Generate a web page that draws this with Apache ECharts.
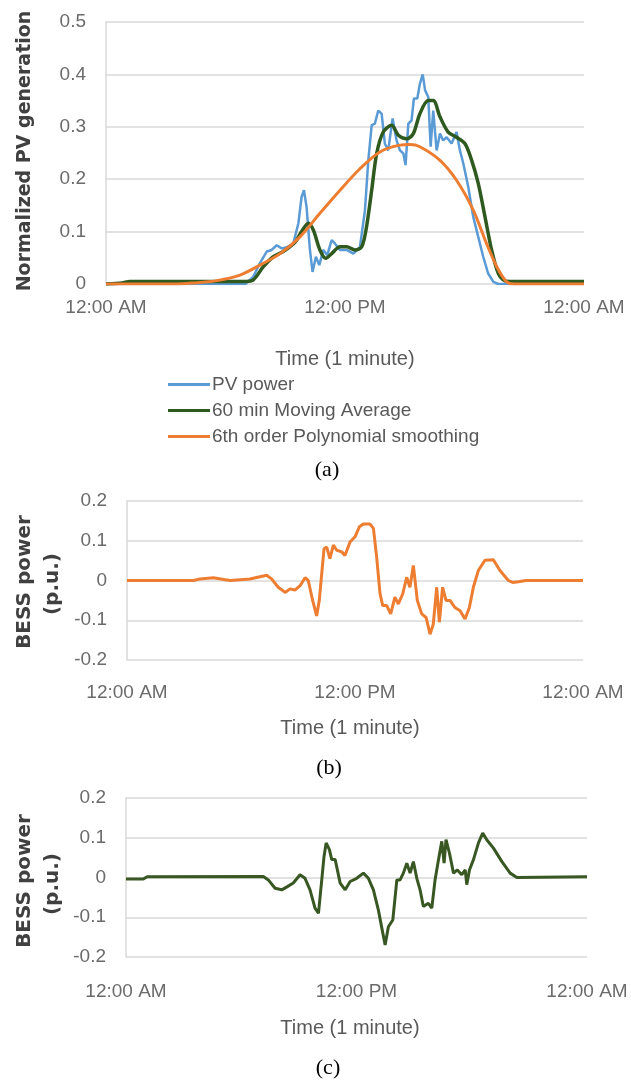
<!DOCTYPE html>
<html>
<head>
<meta charset="utf-8">
<script src="https://cdn.jsdelivr.net/npm/echarts@6/dist/echarts.min.js"></script>
<style>
html,body{margin:0;padding:0;background:#fff;}
#c{width:631px;height:1082px;}
</style>
</head>
<body>
<div id="c"></div>
<script>
// ---- data (hour of day, value) ----
var timeTickLabels = ["12:00 AM", "12:00 PM", "12:00 AM"];
var seriesNames = ["PV power", "60 min Moving Average", "6th order Polynomial smoothing"];

var pvPower = [[0,0],[7.0,0],[7.4,0.014],[7.73,0.04],[8.07,0.062],[8.32,0.065],[8.57,0.074],[8.82,0.068],[9.07,0.07],[9.40,0.077],[9.66,0.116],[9.82,0.166],[9.94,0.179],[10.07,0.147],[10.24,0.065],[10.37,0.023],[10.54,0.052],[10.71,0.036],[10.91,0.065],[11.11,0.055],[11.33,0.084],[11.50,0.077],[11.75,0.065],[12.08,0.065],[12.42,0.058],[12.75,0.071],[13.0,0.14],[13.17,0.236],[13.34,0.303],[13.50,0.306],[13.67,0.331],[13.84,0.325],[14.0,0.268],[14.17,0.255],[14.39,0.316],[14.59,0.274],[14.76,0.255],[14.93,0.249],[15.04,0.227],[15.18,0.306],[15.34,0.312],[15.46,0.354],[15.63,0.354],[15.76,0.382],[15.90,0.40],[16.02,0.37],[16.18,0.357],[16.30,0.262],[16.43,0.331],[16.60,0.255],[16.77,0.287],[16.93,0.274],[17.10,0.28],[17.35,0.268],[17.60,0.29],[17.77,0.255],[17.94,0.23],[18.19,0.185],[18.44,0.128],[18.69,0.09],[18.94,0.052],[19.19,0.02],[19.45,0.004],[19.7,0],[24,0]];

var movingAverage = [[0,0],[0.8,0.002],[1.2,0.005],[7.0,0.005],[7.4,0.008],[7.9,0.033],[8.4,0.052],[8.9,0.062],[9.5,0.08],[9.82,0.10],[10.16,0.116],[10.41,0.103],[10.74,0.065],[11.04,0.049],[11.33,0.058],[11.75,0.071],[12.08,0.071],[12.5,0.065],[12.84,0.071],[13.08,0.109],[13.34,0.179],[13.59,0.249],[13.92,0.29],[14.34,0.303],[14.68,0.284],[15.09,0.277],[15.43,0.287],[15.76,0.325],[16.18,0.35],[16.43,0.35],[16.77,0.319],[17.18,0.29],[17.6,0.28],[18.02,0.268],[18.36,0.236],[18.69,0.192],[19.03,0.128],[19.36,0.065],[19.70,0.02],[20.03,0.006],[20.4,0.005],[24,0.005]];

var polySmoothing = [[0,0],[3.5,0],[4.4,0.002],[5.5,0.006],[6.73,0.017],[7.73,0.036],[8.74,0.058],[9.74,0.09],[10.74,0.135],[11.75,0.179],[12.75,0.22],[13.75,0.252],[14.76,0.265],[15.26,0.266],[15.76,0.262],[16.77,0.236],[17.6,0.198],[18.44,0.141],[19.11,0.077],[19.62,0.033],[20.12,0.004],[20.5,0],[24,0]];

var bessB = [[0,0],[3.5,0],[3.84,0.004],[4.54,0.007],[5.42,0],[6.47,0.004],[7.35,0.013],[7.61,0.004],[7.96,-0.017],[8.32,-0.03],[8.58,-0.021],[8.84,-0.024],[9.11,-0.013],[9.37,0.007],[9.54,0],[9.77,-0.05],[9.98,-0.089],[10.12,-0.05],[10.37,0.08],[10.51,0.084],[10.68,0.055],[10.86,0.089],[11.04,0.076],[11.30,0.072],[11.47,0.063],[11.74,0.097],[12.0,0.11],[12.23,0.135],[12.44,0.142],[12.79,0.142],[12.97,0.131],[13.14,0.059],[13.32,-0.034],[13.46,-0.063],[13.67,-0.063],[13.88,-0.084],[14.1,-0.042],[14.28,-0.059],[14.51,-0.034],[14.72,0.008],[14.89,-0.017],[15.07,0.038],[15.28,-0.05],[15.51,-0.084],[15.74,-0.093],[15.95,-0.135],[16.12,-0.11],[16.30,-0.017],[16.44,-0.105],[16.61,-0.017],[16.79,-0.05],[17.0,-0.05],[17.26,-0.068],[17.53,-0.076],[17.79,-0.097],[18.02,-0.068],[18.23,-0.017],[18.49,0.025],[18.84,0.051],[19.28,0.052],[19.63,0.025],[20.07,0],[20.3,-0.005],[20.6,-0.003],[21,0],[24,0]];

var bessC = [[0,-0.004],[0.9,-0.004],[1.1,0.002],[7.15,0.0025],[7.41,-0.006],[7.76,-0.027],[8.11,-0.031],[8.40,-0.023],[8.71,-0.014],[9.06,0.007],[9.32,-0.002],[9.58,-0.031],[9.84,-0.077],[10.02,-0.09],[10.14,-0.031],[10.31,0.053],[10.42,0.087],[10.59,0.07],[10.71,0.045],[10.89,0.045],[11.15,-0.014],[11.41,-0.031],[11.67,-0.01],[12.01,-0.002],[12.36,0.011],[12.62,-0.002],[12.88,-0.031],[13.14,-0.082],[13.37,-0.14],[13.49,-0.17],[13.66,-0.124],[13.89,-0.107],[14.1,-0.006],[14.27,-0.006],[14.44,0.011],[14.62,0.036],[14.79,0.011],[14.96,0.04],[15.14,-0.002],[15.31,-0.031],[15.48,-0.073],[15.74,-0.065],[15.92,-0.077],[16.09,-0.006],[16.27,0.045],[16.44,0.091],[16.56,0.036],[16.66,0.095],[16.84,0.061],[17.05,0.011],[17.25,0.019],[17.48,0.007],[17.66,0.019],[17.74,-0.018],[17.88,0.019],[18.09,0.045],[18.35,0.087],[18.57,0.112],[18.78,0.095],[19.13,0.074],[19.57,0.04],[20.0,0.011],[20.35,0.0],[24,0.002]];

// ---- styling ----
var tickFont = {fontFamily: "Liberation Sans", fontSize: 19, color: "#6b6b6b"};
var gridColor = "#d9d9d9";
var C_BLUE = "#5b9bd5", C_GREEN = "#2f5a1f", C_ORANGE = "#ed7d31", C_GREEN2 = "#385723";

function xAxisDef(gridIndex, margin) {
  return {
    type: "value", gridIndex: gridIndex, min: 0, max: 24, interval: 12,
    axisLine: {show: false}, axisTick: {show: false}, splitLine: {show: false},
    axisLabel: Object.assign({margin: margin, showMinLabel: true, showMaxLabel: true,
      formatter: function (v) { return timeTickLabels[Math.round(v / 12)]; }}, tickFont)
  };
}
function yAxisDef(gridIndex, min, max) {
  return {
    type: "value", gridIndex: gridIndex, min: min, max: max, interval: 0.1,
    axisLine: {show: true, lineStyle: {color: gridColor, width: 1.5}},
    axisTick: {show: false},
    splitLine: {show: true, lineStyle: {color: gridColor, width: 1.5}},
    axisLabel: Object.assign({margin: 20, formatter: function (v) {
      var r = Math.round(v * 10) / 10; return r === 0 ? "0" : String(r);
    }}, tickFont)
  };
}
function txt(x, y, s, opts) {
  var o = Object.assign({fontFamily: "Liberation Sans", fontSize: 20, fontWeight: "normal", fill: "#595959", rot: 0}, opts || {});
  return {type: "text", x: x, y: y, rotation: o.rot, silent: true,
    style: {text: s, fontFamily: o.fontFamily, fontSize: o.fontSize, fontWeight: o.fontWeight,
      fill: o.fill, align: "center", verticalAlign: "middle"}};
}

var chart = echarts.init(document.getElementById("c"), null, {renderer: "canvas"});
chart.setOption({
  animation: false,
  backgroundColor: "#ffffff",
  grid: [
    {left: 106, top: 22, width: 478, height: 262},
    {left: 127, top: 501, width: 456, height: 159},
    {left: 126, top: 798, width: 461, height: 159}
  ],
  xAxis: [xAxisDef(0, 14), xAxisDef(1, 23), xAxisDef(2, 25)],
  yAxis: [yAxisDef(0, 0, 0.5), yAxisDef(1, -0.2, 0.2), yAxisDef(2, -0.2, 0.2)],
  legend: {
    orient: "vertical", left: 163, top: 370, itemWidth: 42, itemHeight: 3, itemGap: 7,
    icon: "rect", data: seriesNames,
    textStyle: {fontFamily: "Liberation Sans", fontSize: 19, color: "#595959", padding: [0, 0, 0, -3]}
  },
  series: [
    {name: seriesNames[0], type: "line", xAxisIndex: 0, yAxisIndex: 0, data: pvPower, showSymbol: false,
      lineStyle: {color: C_BLUE, width: 2.5}, itemStyle: {color: C_BLUE}, z: 3},
    {name: seriesNames[1], type: "line", xAxisIndex: 0, yAxisIndex: 0, data: movingAverage, showSymbol: false,
      smooth: 0.3, lineStyle: {color: C_GREEN, width: 3.5}, itemStyle: {color: C_GREEN}, z: 4},
    {name: seriesNames[2], type: "line", xAxisIndex: 0, yAxisIndex: 0, data: polySmoothing, showSymbol: false,
      smooth: 0.3, lineStyle: {color: C_ORANGE, width: 3}, itemStyle: {color: C_ORANGE}, z: 5},
    {name: "BESS (b)", type: "line", xAxisIndex: 1, yAxisIndex: 1, data: bessB, showSymbol: false,
      lineStyle: {color: C_ORANGE, width: 3}, itemStyle: {color: C_ORANGE}},
    {name: "BESS (c)", type: "line", xAxisIndex: 2, yAxisIndex: 2, data: bessC, showSymbol: false,
      lineStyle: {color: C_GREEN2, width: 3}, itemStyle: {color: C_GREEN2}}
  ],
  graphic: [
    txt(25, 151, "Normalized PV generation", {fontFamily: "DejaVu Sans", fontWeight: "bold", fontSize: 19, fill: "#404040", rot: Math.PI / 2}),
    txt(345, 359, "Time (1 minute)", {fontSize: 20}),
    txt(327, 470, "(a)", {fontFamily: "Liberation Serif", fontSize: 22, fill: "#000"}),
    txt(25, 582, "BESS power", {fontFamily: "DejaVu Sans", fontWeight: "bold", fontSize: 20, fill: "#404040", rot: Math.PI / 2}),
    txt(53, 584, "(p.u.)", {fontFamily: "DejaVu Sans", fontWeight: "bold", fontSize: 20, fill: "#404040", rot: Math.PI / 2}),
    txt(350, 728, "Time (1 minute)", {fontSize: 20}),
    txt(329, 768, "(b)", {fontFamily: "Liberation Serif", fontSize: 22, fill: "#000"}),
    txt(25, 881, "BESS power", {fontFamily: "DejaVu Sans", fontWeight: "bold", fontSize: 20, fill: "#404040", rot: Math.PI / 2}),
    txt(53, 884, "(p.u.)", {fontFamily: "DejaVu Sans", fontWeight: "bold", fontSize: 20, fill: "#404040", rot: Math.PI / 2}),
    txt(350, 1028, "Time (1 minute)", {fontSize: 20}),
    txt(328, 1068, "(c)", {fontFamily: "Liberation Serif", fontSize: 22, fill: "#000"})
  ]
});
</script>
</body>
</html>
